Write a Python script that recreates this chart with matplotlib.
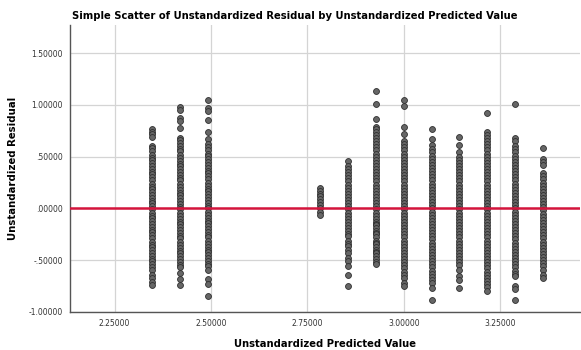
import matplotlib
matplotlib.use('Agg')
import matplotlib.pyplot as plt

# predicted value of each vertical band
pred_values = [2.348, 2.420, 2.493, 2.782, 2.855, 2.927, 2.999, 3.072, 3.144, 3.216, 3.289, 3.361]

# residuals (top to bottom)
resid_1 = [0.77, 0.74, 0.72, 0.69, 0.60, 0.58, 0.55, 0.52, 0.49, 0.47, 0.44, 0.41, 0.38, 0.35, 0.33,
           0.30, 0.27, 0.24, 0.21, 0.19, 0.16, 0.13, 0.10, 0.07, 0.05, 0.02, -0.01, -0.04, -0.07,
           -0.09, -0.12, -0.15, -0.18, -0.21, -0.23, -0.26, -0.29, -0.32, -0.35, -0.37, -0.40,
           -0.43, -0.46, -0.49, -0.51, -0.54, -0.57, -0.59, -0.64, -0.67, -0.71, -0.74]
resid_2 = [0.98, 0.95, 0.87, 0.84, 0.78, 0.68, 0.66, 0.63, 0.60, 0.57, 0.55, 0.52, 0.49, 0.46, 0.43,
           0.41, 0.38, 0.35, 0.32, 0.29, 0.27, 0.24, 0.21, 0.18, 0.15, 0.13, 0.10, 0.07, 0.04, 0.01,
           -0.01, -0.04, -0.07, -0.10, -0.13, -0.15, -0.18, -0.21, -0.24, -0.27, -0.29, -0.32,
           -0.35, -0.38, -0.41, -0.43, -0.46, -0.49, -0.52, -0.55, -0.57, -0.62, -0.68, -0.74]
resid_3 = [1.05, 0.97, 0.94, 0.85, 0.74, 0.67, 0.62, 0.59, 0.56, 0.53, 0.51, 0.48, 0.45, 0.42, 0.39,
           0.36, 0.34, 0.31, 0.28, 0.25, 0.22, 0.19, 0.17, 0.14, 0.11, 0.08, 0.05, 0.02, 0.00,
           -0.03, -0.06, -0.09, -0.12, -0.14, -0.17, -0.20, -0.23, -0.26, -0.28, -0.31, -0.34,
           -0.37, -0.40, -0.42, -0.45, -0.48, -0.51, -0.54, -0.56, -0.59, -0.68, -0.73, -0.85]
resid_4 = [0.20, 0.17, 0.14, 0.12, 0.09, 0.06, 0.03, 0.00, -0.03, -0.06]
resid_5 = [0.46, 0.41, 0.38, 0.35, 0.32, 0.29, 0.26, 0.23, 0.20, 0.17, 0.14, 0.11, 0.08, 0.05, 0.02,
           -0.01, -0.04, -0.07, -0.10, -0.13, -0.16, -0.19, -0.22, -0.25, -0.27, -0.31, -0.34,
           -0.36, -0.40, -0.43, -0.48, -0.51, -0.56, -0.64, -0.75]
resid_6 = [1.13, 1.01, 0.86, 0.79, 0.77, 0.74, 0.71, 0.68, 0.65, 0.62, 0.59, 0.56, 0.53, 0.50, 0.47,
           0.44, 0.41, 0.38, 0.35, 0.32, 0.29, 0.26, 0.23, 0.20, 0.17, 0.14, 0.11, 0.08, 0.05, 0.02,
           -0.01, -0.04, -0.07, -0.10, -0.13, -0.15, -0.16, -0.19, -0.22, -0.24, -0.25, -0.28,
           -0.31, -0.33, -0.34, -0.37, -0.40, -0.42, -0.43, -0.46, -0.49, -0.52, -0.54]
resid_7 = [1.05, 0.99, 0.79, 0.72, 0.65, 0.62, 0.59, 0.56, 0.53, 0.50, 0.47, 0.44, 0.41, 0.38, 0.35,
           0.32, 0.29, 0.26, 0.23, 0.20, 0.17, 0.14, 0.11, 0.08, 0.05, 0.02, -0.01, -0.04, -0.07,
           -0.10, -0.13, -0.16, -0.19, -0.22, -0.25, -0.28, -0.31, -0.34, -0.37, -0.40, -0.43,
           -0.46, -0.49, -0.52, -0.55, -0.58, -0.61, -0.64, -0.67, -0.72, -0.75]
resid_8 = [0.77, 0.67, 0.61, 0.57, 0.54, 0.51, 0.48, 0.45, 0.42, 0.39, 0.36, 0.33, 0.30, 0.27, 0.24,
           0.21, 0.18, 0.15, 0.12, 0.09, 0.06, 0.03, 0.00, -0.03, -0.06, -0.09, -0.12, -0.15,
           -0.18, -0.21, -0.24, -0.27, -0.30, -0.33, -0.36, -0.39, -0.42, -0.45, -0.48, -0.51,
           -0.54, -0.57, -0.60, -0.63, -0.66, -0.69, -0.72, -0.77, -0.88]
resid_9 = [0.69, 0.61, 0.54, 0.50, 0.47, 0.44, 0.41, 0.38, 0.35, 0.32, 0.29, 0.26, 0.23, 0.20, 0.17,
           0.14, 0.11, 0.08, 0.05, 0.02, -0.01, -0.04, -0.07, -0.10, -0.13, -0.16, -0.19, -0.22,
           -0.25, -0.28, -0.31, -0.34, -0.37, -0.40, -0.43, -0.46, -0.49, -0.52, -0.55, -0.59,
           -0.65, -0.69, -0.77]
resid_10 = [0.92, 0.74, 0.71, 0.68, 0.65, 0.62, 0.59, 0.56, 0.53, 0.50, 0.47, 0.44, 0.41, 0.38, 0.35,
            0.32, 0.29, 0.26, 0.23, 0.20, 0.17, 0.14, 0.11, 0.08, 0.05, 0.02, -0.01, -0.04, -0.07,
            -0.10, -0.13, -0.16, -0.19, -0.22, -0.25, -0.28, -0.31, -0.34, -0.37, -0.40, -0.43,
            -0.46, -0.49, -0.52, -0.55, -0.58, -0.61, -0.64, -0.67, -0.70, -0.73, -0.76, -0.80]
resid_11 = [1.01, 0.68, 0.65, 0.60, 0.57, 0.54, 0.51, 0.48, 0.45, 0.42, 0.39, 0.36, 0.33, 0.30, 0.27,
            0.24, 0.21, 0.18, 0.15, 0.12, 0.09, 0.06, 0.03, 0.00, -0.03, -0.06, -0.09, -0.12,
            -0.15, -0.18, -0.21, -0.24, -0.27, -0.30, -0.33, -0.36, -0.39, -0.42, -0.45, -0.48,
            -0.51, -0.54, -0.57, -0.60, -0.63, -0.65, -0.75, -0.78, -0.88]
resid_12 = [0.58, 0.48, 0.45, 0.42, 0.34, 0.31, 0.28, 0.25, 0.22, 0.19, 0.16, 0.13, 0.10, 0.07, 0.04,
            0.01, -0.02, -0.05, -0.08, -0.11, -0.14, -0.17, -0.20, -0.23, -0.26, -0.29, -0.32,
            -0.35, -0.38, -0.41, -0.44, -0.47, -0.50, -0.53, -0.56, -0.59, -0.64, -0.67]

bands = [resid_1, resid_2, resid_3, resid_4, resid_5, resid_6,
         resid_7, resid_8, resid_9, resid_10, resid_11, resid_12]

x_ticks = [2.25, 2.50, 2.75, 3.00, 3.25]
x_tick_labels = ['2.25000', '2.50000', '2.75000', '3.00000', '3.25000']
y_ticks = [-1.0, -0.5, 0.0, 0.5, 1.0, 1.5]
y_tick_labels = ['-1.00000', '-.50000', '.00000', '.50000', '1.00000', '1.50000']

fig = plt.figure(figsize=(5.81, 3.5), dpi=100)
ax = fig.add_axes([0.1205, 0.1086, 0.8775, 0.82])

for xv, ys in zip(pred_values, bands):
    ax.scatter([xv] * len(ys), ys, s=18, facecolor='#666666', edgecolor='#2f2f2f',
               linewidth=0.6, zorder=3)

# reference line at zero
ax.axhline(0, color='#d4143c', linewidth=1.8, zorder=4)

ax.set_xlim(2.1344, 3.456)
ax.set_ylim(-1.0, 1.771)
ax.set_xticks(x_ticks)
ax.set_xticklabels(x_tick_labels)
ax.set_yticks(y_ticks)
ax.set_yticklabels(y_tick_labels)
ax.tick_params(length=0, labelsize=5.5, colors='#333333', pad=5)
ax.grid(True, color='#d4d4d4', linewidth=0.9, zorder=0)
ax.set_axisbelow(True)

for side in ['top', 'right']:
    ax.spines[side].set_visible(False)
for side in ['left', 'bottom']:
    ax.spines[side].set_color('#555555')
    ax.spines[side].set_linewidth(1.0)

ax.set_xlabel('Unstandardized Predicted Value', fontsize=7.2, fontweight='bold', labelpad=8)
ax.set_ylabel('Unstandardized Residual', fontsize=7.3, fontweight='bold', labelpad=8)
fig.text(0.508, 0.955, 'Simple Scatter of Unstandardized Residual by Unstandardized Predicted Value',
         ha='center', va='center', fontsize=7.2, fontweight='bold')

fig.savefig('out.png', dpi=100)
